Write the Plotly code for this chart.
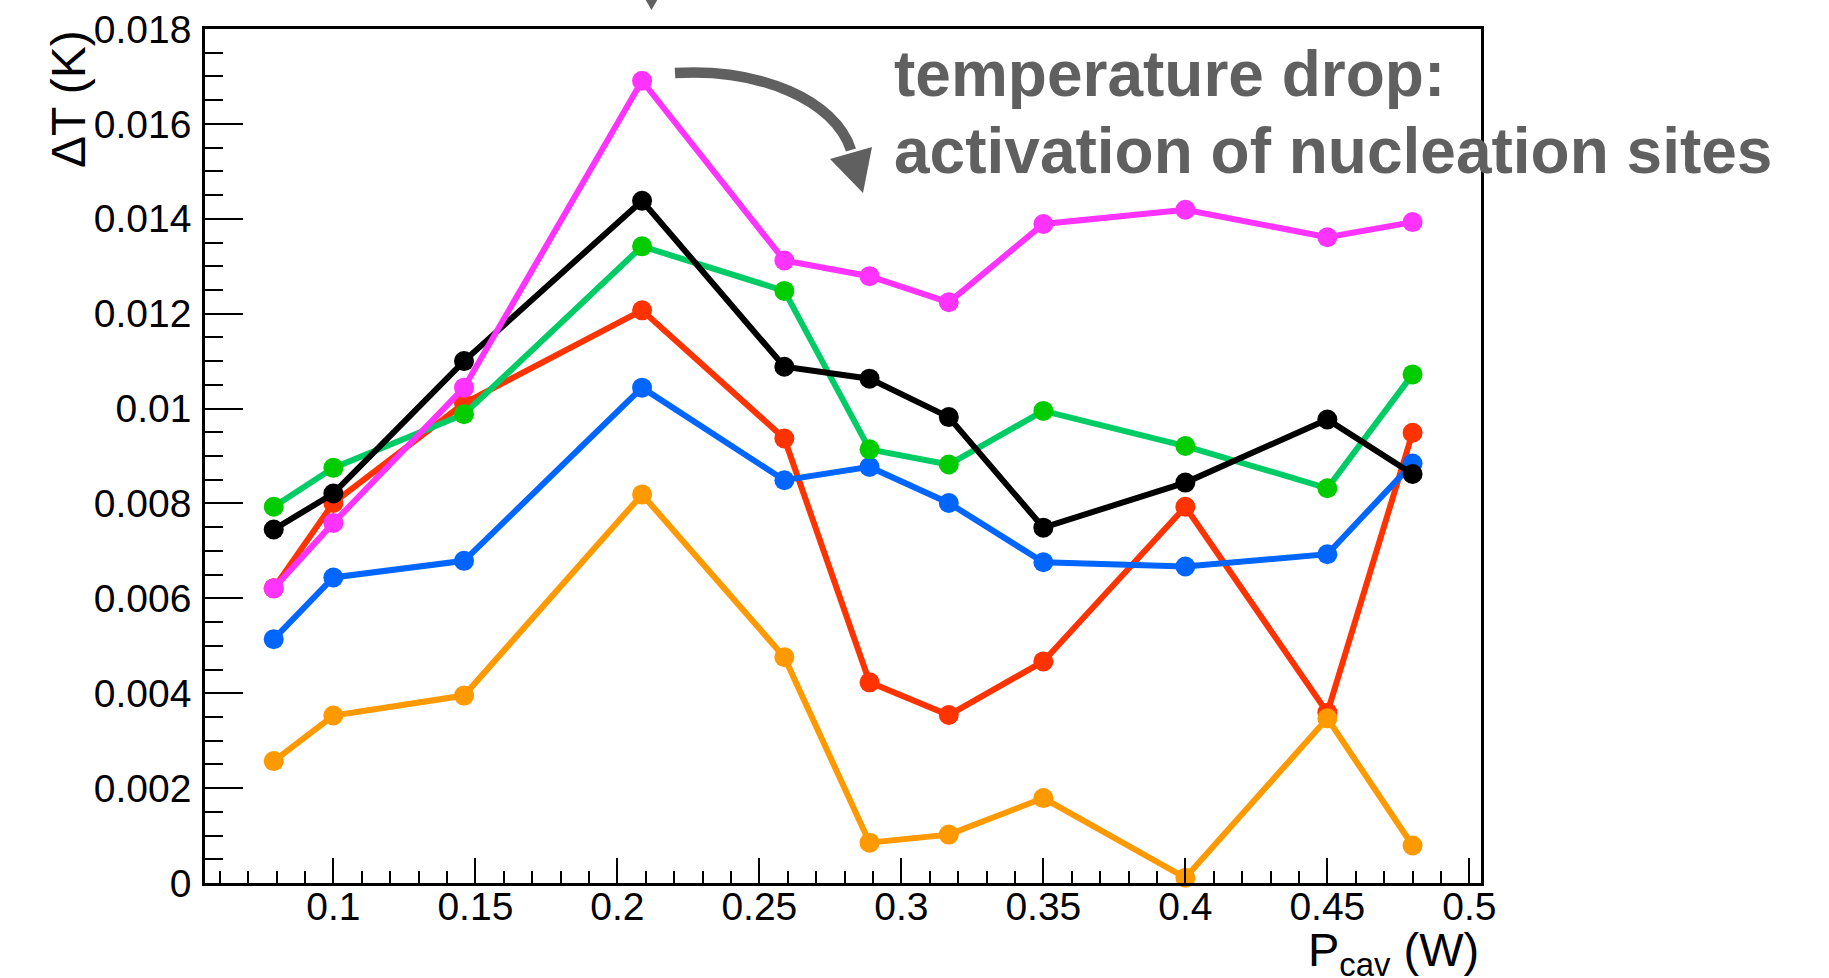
import plotly.graph_objects as go

# Cavity power (W) at which each temperature rise was recorded
p_cav = [0.079, 0.100, 0.146, 0.2087, 0.2588, 0.2888, 0.3167, 0.350, 0.400, 0.450, 0.480]

# Temperature rise (K) per sensor
dt_red = [0.00621, 0.00801, 0.01011, 0.01207, 0.00937, 0.00423, 0.00354, 0.00467, 0.00793, 0.00359, 0.00949]
dt_orange = [0.00257, 0.00353, 0.00395, 0.00819, 0.00476, 0.00085, 0.00102, 0.00179, 0.00011, 0.00347, 0.00079]
dt_blue = [0.00514, 0.00644, 0.00679, 0.01044, 0.00849, 0.00877, 0.00801, 0.00676, 0.00667, 0.00693, 0.00884]
dt_green = [0.00793, 0.00875, 0.00988, 0.01342, 0.01248, 0.00914, 0.00882, 0.00995, 0.00921, 0.00832, 0.01072]
dt_black = [0.00745, 0.00821, 0.01100, 0.01438, 0.01088, 0.01063, 0.00982, 0.00749, 0.00844, 0.00977, 0.00862]
dt_magenta = [0.00621, 0.00759, 0.01044, 0.01691, 0.01312, 0.01279, 0.01224, 0.01389, 0.01419, 0.01361, 0.01393]

x_tick_vals = [0.1, 0.15, 0.2, 0.25, 0.3, 0.35, 0.4, 0.45, 0.5]
x_tick_text = ["0.1", "0.15", "0.2", "0.25", "0.3", "0.35", "0.4", "0.45", "0.5"]
y_tick_vals = [0, 0.002, 0.004, 0.006, 0.008, 0.01, 0.012, 0.014, 0.016, 0.018]
y_tick_text = ["0", "0.002", "0.004", "0.006", "0.008", "0.01", "0.012", "0.014", "0.016", "0.018"]

W, H = 1829, 978
L, R, T, B = 205, 1481, 29, 883  # plot frame in pixels
FONT = "Liberation Sans, Arial, Helvetica, sans-serif"
GRAY = "#606060"


def px(x):
    return (x - L) / (R - L)


def py(y):
    return (B - y) / (B - T)


series = [
    (dt_red, "#FF3300", "#FF3300"),
    (dt_orange, "#FF9900", "#FF9900"),
    (dt_blue, "#0066FF", "#0066FF"),
    (dt_green, "#00CC66", "#00CC00"),
    (dt_black, "#000000", "#000000"),
    (dt_magenta, "#FF33FF", "#FF33FF"),
]

fig = go.Figure()
for vals, lcol, mcol in series:
    fig.add_trace(go.Scatter(
        x=p_cav, y=vals, mode="lines+markers",
        line=dict(color=lcol, width=6),
        marker=dict(color=mcol, size=20, line=dict(width=0)),
        showlegend=False, cliponaxis=False,
    ))

axis_common = dict(
    showgrid=False, zeroline=False, showline=True, linecolor="black",
    linewidth=2.5, mirror=True, ticks="inside", tickcolor="black",
    tickwidth=2, automargin=False,
    tickfont=dict(family=FONT, size=39, color="black"),
)

fig.update_xaxes(
    range=[0.0548, 0.5041], tickmode="array", tickvals=x_tick_vals,
    ticktext=x_tick_text, ticklen=25, ticklabelstandoff=-13,
    minor=dict(dtick=0.01, tick0=0, ticks="inside", ticklen=12,
               tickwidth=2, tickcolor="black"),
    **axis_common,
)
fig.update_yaxes(
    range=[0, 0.018], tickmode="array", tickvals=y_tick_vals,
    ticktext=y_tick_text, ticklen=38, ticklabelstandoff=3,
    minor=dict(dtick=0.0005, tick0=0, ticks="inside", ticklen=18,
               tickwidth=2, tickcolor="black"),
    **axis_common,
)

annotations = [
    dict(text="ΔT (K)", x=px(68), y=py(28), xref="paper", yref="paper",
         xanchor="center", yanchor="top", textangle=-90, showarrow=False,
         font=dict(family=FONT, size=48, color="black")),
    dict(text="P<sub>cav</sub> (W)", x=px(1481), y=py(921), xref="paper",
         yref="paper", xanchor="right", yanchor="top", showarrow=False,
         font=dict(family=FONT, size=47, color="black")),
    dict(text="temperature drop:", x=px(892), y=py(74), xref="paper",
         yref="paper", xanchor="left", yanchor="middle", showarrow=False,
         font=dict(family=FONT, size=64, color=GRAY, weight="bold")),
    dict(text="activation of nucleation sites", x=px(892), y=py(151),
         xref="paper", yref="paper", xanchor="left", yanchor="middle",
         showarrow=False,
         font=dict(family=FONT, size=64, color=GRAY, weight="bold")),
]

shapes = [
    # curved pointer towards the text
    dict(type="path", xref="paper", yref="paper",
         path=(f"M {px(675)},{py(73)} C {px(760)},{py(68)} "
               f"{px(835)},{py(100)} {px(851)},{py(150)}"),
         line=dict(color=GRAY, width=10.5)),
    dict(type="path", xref="paper", yref="paper",
         path=(f"M {px(830)},{py(159)} L {px(872)},{py(147)} "
               f"L {px(863)},{py(193)} Z"),
         fillcolor=GRAY, line=dict(width=0)),
    # tip of the pointer coming from above
    dict(type="path", xref="paper", yref="paper",
         path=(f"M {px(644)},{py(-3)} L {px(659)},{py(-3)} "
               f"L {px(651.5)},{py(10)} Z"),
         fillcolor=GRAY, line=dict(width=0)),
]

fig.update_layout(
    width=W, height=H,
    margin=dict(l=L, r=W - R, t=T, b=H - B, pad=0),
    paper_bgcolor="white", plot_bgcolor="white",
    annotations=annotations, shapes=shapes,
)

fig.write_html("out.html")
